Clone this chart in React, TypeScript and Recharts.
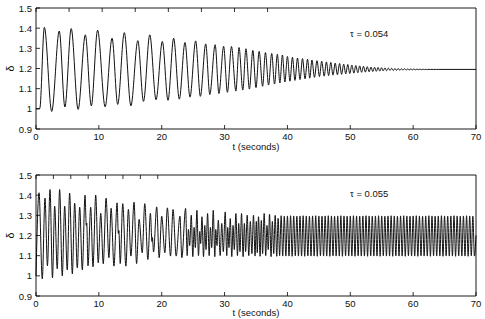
import { LineChart, Line, XAxis, YAxis } from 'recharts'

const FONT = '"Liberation Sans", Arial, Helvetica, sans-serif'

const xTicks = [0, 10, 20, 30, 40, 50, 60, 70]
const yTicks = [0.9, 1, 1.1, 1.2, 1.3, 1.4, 1.5]

// tau = 0.054 : turning points [t, delta]
const topEarly: [number, number][] = [
    [0, 1.0], [0.6, 1.002], [1.33, 1.404], [2.5, 0.987], [3.7, 1.386], [4.6, 1.009], [5.6, 1.398], [6.7, 0.997],
    [7.85, 1.367], [8.8, 1.015], [9.8, 1.39], [11.0, 1.01], [12.1, 1.35], [13.0, 1.022], [14.05, 1.378], [15.1, 1.015],
    [16.2, 1.338], [17.1, 1.037], [18.1, 1.367], [19.1, 1.045], [20.1, 1.334], [21.0, 1.042], [21.9, 1.35], [22.8, 1.048],
    [23.7, 1.329], [24.5, 1.058], [25.4, 1.337], [26.15, 1.062], [27.0, 1.322], [27.65, 1.071], [28.5, 1.318], [29.1, 1.076],
    [29.85, 1.31], [30.45, 1.082], [31.1, 1.309], [31.8, 1.088], [32.3, 1.304], [32.9, 1.093], [33.4, 1.298], [33.95, 1.098],
]

const topMid: [number, number][] = [
    [34.5, 1.29], [35.0, 1.105], [35.5, 1.285], [36.05, 1.112], [36.5, 1.279], [37.0, 1.118], [37.5, 1.275], [37.95, 1.123],
    [38.4, 1.271], [38.8, 1.128], [39.2, 1.267], [39.6, 1.133], [40.0, 1.26], [40.4, 1.137], [40.8, 1.256], [41.2, 1.141],
    [41.6, 1.252], [42.0, 1.145], [42.4, 1.249], [42.8, 1.149], [43.2, 1.246], [43.55, 1.152], [43.9, 1.242], [44.3, 1.156],
]

const topLate: [number, number][] = [
    [44.7, 1.239], [45.1, 1.16], [45.45, 1.236], [45.85, 1.162], [46.2, 1.233], [46.55, 1.165], [46.9, 1.23], [47.25, 1.167],
    [47.6, 1.227], [47.95, 1.169], [48.3, 1.225], [48.62, 1.171], [48.95, 1.222], [49.28, 1.173], [49.6, 1.22], [49.92, 1.175],
    [50.25, 1.217], [50.57, 1.177], [50.88, 1.215], [51.2, 1.179], [51.5, 1.213], [51.8, 1.181], [52.1, 1.211], [52.4, 1.182],
    [52.7, 1.209], [53.0, 1.184], [53.3, 1.207], [53.58, 1.185], [53.86, 1.206], [54.14, 1.186], [54.42, 1.205], [54.7, 1.187],
    [54.97, 1.204], [55.24, 1.188], [55.51, 1.203], [55.78, 1.189], [56.05, 1.202], [56.32, 1.19], [56.58, 1.201], [56.84, 1.19],
    [57.1, 1.2], [57.36, 1.191], [57.62, 1.2], [57.88, 1.191], [58.13, 1.199], [58.38, 1.192], [58.63, 1.199], [58.88, 1.192],
    [59.13, 1.198], [59.38, 1.193], [59.63, 1.198], [59.88, 1.193], [60.12, 1.1975], [60.36, 1.1935], [60.6, 1.197], [60.84, 1.194],
    [61.08, 1.197], [61.32, 1.194], [61.56, 1.1965], [61.8, 1.1945], [62.04, 1.1965], [62.28, 1.1945], [62.52, 1.196], [62.76, 1.195],
    [63.0, 1.196], [63.24, 1.195], [63.48, 1.1958], [63.72, 1.1952], [64.0, 1.1955], [70, 1.1955],
]

// tau = 0.055 : turning points [t, delta]
const bottomEarly: [number, number][] = [
    [0, 1.0], [0.48, 1.412], [1.0, 0.985], [1.43, 1.385], [1.82, 1.05], [2.23, 1.428], [2.62, 0.99], [2.97, 1.345],
    [3.38, 1.035], [3.76, 1.428], [4.18, 1.0], [4.56, 1.345], [4.97, 1.03], [5.35, 1.41], [5.78, 1.01], [6.15, 1.36],
    [6.57, 1.04], [6.95, 1.34], [7.37, 1.03], [7.8, 1.4], [8.0, 1.25], [8.07, 1.262], [8.27, 1.05], [8.7, 1.34],
    [9.07, 1.045], [9.5, 1.4], [9.9, 1.065], [10.3, 1.31], [10.7, 1.06], [11.15, 1.385], [11.6, 1.09],
]

const bottomMid: [number, number][] = [
    [11.95, 1.335], [12.4, 1.048], [12.9, 1.362], [13.1, 1.21], [13.18, 1.225], [13.4, 1.061], [13.8, 1.358], [14.3, 1.048],
    [14.7, 1.329], [15.1, 1.098], [15.6, 1.365], [16.0, 1.061], [16.4, 1.28], [16.9, 1.114], [17.3, 1.358], [17.8, 1.081],
    [18.2, 1.31], [18.45, 1.17], [18.52, 1.19], [18.7, 1.118], [19.2, 1.342], [19.6, 1.09], [20.0, 1.296], [20.5, 1.114],
    [20.9, 1.337], [21.4, 1.098], [21.8, 1.329], [22.3, 1.098], [22.9, 1.296], [23.2, 1.09], [23.8, 1.334], [24.05, 1.1],
    [24.25, 1.23], [24.45, 1.15], [24.7, 1.301], [24.95, 1.095], [25.15, 1.24], [25.35, 1.14], [25.6, 1.325], [25.85, 1.1],
    [26.05, 1.22], [26.2, 1.16], [26.4, 1.293], [26.65, 1.095], [26.85, 1.25], [27.05, 1.13], [27.3, 1.309], [27.55, 1.1],
    [27.75, 1.24], [27.95, 1.14], [28.2, 1.325], [28.45, 1.095], [28.6, 1.23], [28.8, 1.15], [29.0, 1.276], [29.3, 1.1],
    [29.55, 1.26], [29.8, 1.12], [30.1, 1.317], [30.35, 1.1], [30.5, 1.24], [30.7, 1.14], [30.9, 1.284], [31.15, 1.095],
    [31.35, 1.25], [31.55, 1.13], [31.8, 1.309], [32.05, 1.1], [32.25, 1.26], [32.45, 1.12], [32.7, 1.309], [32.95, 1.095],
    [33.15, 1.26], [33.35, 1.12], [33.6, 1.301], [33.85, 1.1], [34.1, 1.27], [34.35, 1.11], [34.6, 1.301], [34.85, 1.098],
    [35.05, 1.27], [35.2, 1.115], [35.4, 1.293], [35.65, 1.097], [35.85, 1.275], [36.05, 1.11], [36.3, 1.309], [36.55, 1.1],
    [36.75, 1.25], [36.95, 1.13], [37.15, 1.305], [37.4, 1.095], [37.6, 1.27], [37.82, 1.11], [38.05, 1.3], [38.3, 1.097],
    [38.52, 1.285], [38.76, 1.1], [39.0, 1.298], [39.25, 1.098], [39.5, 1.296], [39.75, 1.098],
]

const bottomLate: [number, number][] = [
    [40.0, 1.297], [40.25, 1.098], [40.5, 1.298], [40.75, 1.097], [41.0, 1.297], [41.25, 1.099], [41.5, 1.296], [41.75, 1.098],
    [42.0, 1.297], [42.25, 1.098], [42.5, 1.298], [42.75, 1.097], [43.0, 1.297], [43.25, 1.099], [43.5, 1.296], [43.75, 1.098],
    [44.0, 1.297], [44.25, 1.098], [44.5, 1.298], [44.75, 1.097], [45.0, 1.297], [45.25, 1.099], [45.5, 1.296], [45.75, 1.098],
    [46.0, 1.297], [46.25, 1.098], [46.5, 1.298], [46.75, 1.097], [47.0, 1.297], [47.25, 1.099], [47.5, 1.296], [47.75, 1.098],
    [48.0, 1.297], [48.25, 1.098], [48.5, 1.298], [48.75, 1.097], [49.0, 1.297], [49.25, 1.099], [49.5, 1.296], [49.75, 1.098],
    [50.0, 1.297], [50.25, 1.098], [50.5, 1.298], [50.75, 1.097], [51.0, 1.297], [51.25, 1.099], [51.5, 1.296], [51.75, 1.098],
    [52.0, 1.297], [52.25, 1.098], [52.5, 1.298], [52.75, 1.097], [53.0, 1.297], [53.25, 1.099], [53.5, 1.296], [53.75, 1.098],
    [54.0, 1.297], [54.25, 1.098], [54.5, 1.298], [54.75, 1.097], [55.0, 1.297], [55.25, 1.099], [55.5, 1.296], [55.75, 1.098],
    [56.0, 1.297], [56.25, 1.098], [56.5, 1.298], [56.75, 1.097], [57.0, 1.297], [57.25, 1.099], [57.5, 1.296], [57.75, 1.098],
    [58.0, 1.297], [58.25, 1.098], [58.5, 1.298], [58.75, 1.097], [59.0, 1.297], [59.25, 1.099], [59.5, 1.296], [59.75, 1.098],
    [60.0, 1.297], [60.25, 1.098], [60.5, 1.298], [60.75, 1.097], [61.0, 1.297], [61.25, 1.099], [61.5, 1.296], [61.75, 1.098],
    [62.0, 1.297], [62.25, 1.098], [62.5, 1.298], [62.75, 1.097], [63.0, 1.297], [63.25, 1.099], [63.5, 1.296], [63.75, 1.098],
    [64.0, 1.297], [64.25, 1.098], [64.5, 1.298], [64.75, 1.097], [65.0, 1.297], [65.25, 1.099], [65.5, 1.296], [65.75, 1.098],
    [66.0, 1.297], [66.25, 1.098], [66.5, 1.298], [66.75, 1.097], [67.0, 1.297], [67.25, 1.099], [67.5, 1.296], [67.75, 1.098],
    [68.0, 1.297], [68.25, 1.098], [68.5, 1.298], [68.75, 1.097], [69.0, 1.297], [69.25, 1.099], [69.5, 1.296], [69.75, 1.098],
    [70.0, 1.2],
]

const toRows = (pts: [number, number][]) => pts.map(([t, d]) => ({ t, d }))

const topData = toRows([...topEarly, ...topMid, ...topLate])
const bottomData = toRows([...bottomEarly, ...bottomMid, ...bottomLate])

const TICK_LEN = 4

// axes get a 1px size (a zero-size axis is not drawn at all), ticks point inwards like matlab's box
function BottomTick({ x, y, payload }: any) {
    return (
        <g>
            <line x1={x} y1={y} x2={x} y2={y - TICK_LEN} stroke="#000" strokeWidth={0.8} />
            <text x={x} y={y + 7.5} textAnchor="middle" dominantBaseline="central" fontSize={9.5} fontFamily={FONT} fill="#111">
                {payload.value}
            </text>
        </g>
    )
}

function TopTick({ x, y }: any) {
    return <line x1={x} y1={y} x2={x} y2={y + TICK_LEN} stroke="#000" strokeWidth={0.8} />
}

function LeftTick({ x, y, payload }: any) {
    return (
        <g>
            <line x1={x} y1={y} x2={x + TICK_LEN} y2={y} stroke="#000" strokeWidth={0.8} />
            <text x={x - 4} y={y} textAnchor="end" dominantBaseline="central" fontSize={9.5} fontFamily={FONT} fill="#111">
                {payload.value}
            </text>
        </g>
    )
}

function RightTick({ x, y }: any) {
    return <line x1={x} y1={y} x2={x - TICK_LEN} y2={y} stroke="#000" strokeWidth={0.8} />
}

interface PanelProps {
    data: { t: number; d: number }[]
    height: number
    top: number
    bottom: number
}

function Panel({ data, height, top, bottom }: PanelProps) {
    const axisLine = { stroke: '#000', strokeWidth: 0.9 }
    return (
        <LineChart width={485} height={height} data={data} margin={{ top: top - 1, right: 8, bottom: bottom - 1, left: 35 }}>
            <XAxis
                dataKey="t"
                type="number"
                domain={[0, 70]}
                ticks={xTicks}
                interval={0}
                height={1}
                tickSize={0}
                tickMargin={0}
                tickLine={false}
                axisLine={axisLine}
                tick={<BottomTick />}
            />
            <XAxis
                xAxisId="top"
                orientation="top"
                type="number"
                domain={[0, 70]}
                ticks={xTicks}
                interval={0}
                height={1}
                tickSize={0}
                tickMargin={0}
                tickLine={false}
                axisLine={axisLine}
                tick={<TopTick />}
            />
            <YAxis
                type="number"
                domain={[0.9, 1.5]}
                ticks={yTicks}
                interval={0}
                width={1}
                tickSize={0}
                tickMargin={0}
                tickLine={false}
                axisLine={axisLine}
                tick={<LeftTick />}
            />
            <YAxis
                yAxisId="right"
                orientation="right"
                type="number"
                domain={[0.9, 1.5]}
                ticks={yTicks}
                interval={0}
                width={1}
                tickSize={0}
                tickMargin={0}
                tickLine={false}
                axisLine={axisLine}
                tick={<RightTick />}
            />
            <Line dataKey="d" type="monotone" stroke="#111" strokeWidth={1} dot={false} isAnimationActive={false} />
        </LineChart>
    )
}

const textStyle = { fontFamily: FONT, fill: '#111' }

export default function App() {
    return (
        <div style={{ position: 'absolute', left: 0, top: 0, width: 485, height: 319, background: '#fff' }}>
            <div style={{ position: 'absolute', left: 0, top: 0 }}>
                <Panel data={topData} height={160} top={8} bottom={31} />
            </div>
            <div style={{ position: 'absolute', left: 0, top: 160 }}>
                <Panel data={bottomData} height={159} top={15} bottom={23} />
            </div>
            <svg width={485} height={319} style={{ position: 'absolute', left: 0, top: 0, pointerEvents: 'none' }}>
                <text x={10} y={68.5} fontSize={10.5} textAnchor="middle" dominantBaseline="central" transform="rotate(-90 10 68.5)" style={textStyle}>
                    δ
                </text>
                <text x={10} y={235.5} fontSize={10.5} textAnchor="middle" dominantBaseline="central" transform="rotate(-90 10 235.5)" style={textStyle}>
                    δ
                </text>
                <text x={256} y={146.5} fontSize={9.5} textAnchor="middle" dominantBaseline="central" style={textStyle}>
                    t (seconds)
                </text>
                <text x={256} y={312.7} fontSize={9.5} textAnchor="middle" dominantBaseline="central" style={textStyle}>
                    t (seconds)
                </text>
                <text x={350} y={33} fontSize={9.5} dominantBaseline="central" style={textStyle}>
                    τ = 0.054
                </text>
                <text x={350} y={193.3} fontSize={9.5} dominantBaseline="central" style={textStyle}>
                    τ = 0.055
                </text>
            </svg>
        </div>
    )
}
